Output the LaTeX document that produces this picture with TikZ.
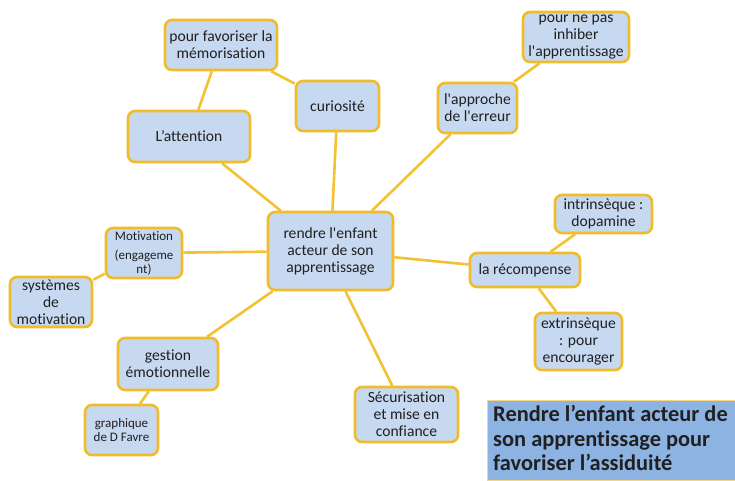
\documentclass[tikz,border=0pt]{standalone}
\usepackage{fontspec}
\setmainfont[Ligatures={NoCommon}]{Carlito}
\newfontfamily\boxfont[Ligatures={NoCommon}]{Carlito}
\usetikzlibrary{backgrounds}
\definecolor{boxfill}{HTML}{C6D9F1}
\definecolor{boxline}{HTML}{F0BC2A}
\definecolor{linkcol}{HTML}{F2C232}
\definecolor{titlefill}{HTML}{8DB3E2}
\definecolor{txt}{HTML}{202020}
\begin{document}
\begin{tikzpicture}[x=1pt,y=-1pt,
  mbox/.style={draw=boxline,fill=boxfill,line width=2.6pt,rounded corners=7pt,
    align=center,inner sep=0pt,text=txt,font=\boxfont\fontsize{15.6}{17}\selectfont},
  sbox/.style={mbox,font=\boxfont\fontsize{13}{14}\selectfont},
  link/.style={draw=linkcol,line width=2.6pt}]
\useasboundingbox (0,0) rectangle (735,480);
\node[mbox,minimum width=125pt,minimum height=78pt] (c) at (330.5,251) {rendre l'enfant\\acteur de son\\apprentissage};
\node[mbox,minimum width=112pt,minimum height=50pt] (mem) at (221,45) {pour favoriser la\\mémorisation};
\node[mbox,minimum width=83pt,minimum height=50pt] (cur) at (337.5,106) {curiosité};
\node[mbox,minimum width=122pt,minimum height=51pt] (att) at (189,136.5) {L’attention};
\node[mbox,minimum width=106pt,minimum height=50pt] (inh) at (576,37) {pour ne pas\\inhiber\\l'apprentissage};
\node[mbox,minimum width=79pt,minimum height=50pt] (err) at (477.5,108) {l'approche\\de l'erreur};
\node[mbox,minimum width=97pt,minimum height=38pt] (intr) at (603.5,214) {intrinsèque :\\dopamine};
\node[mbox,minimum width=110pt,minimum height=34pt] (rec) at (525,270) {la récompense};
\node[mbox,minimum width=87pt,minimum height=57pt] (ext) at (578.5,341.5) {extrinsèque\\: pour\\encourager};
\node[sbox,minimum width=76pt,minimum height=50pt] (mot) at (144,253) {Motivation\\[5pt](engageme\\nt)};
\node[mbox,minimum width=82pt,minimum height=50pt] (sys) at (51,302) {systèmes\\de\\motivation};
\node[mbox,minimum width=100pt,minimum height=52pt] (ges) at (168,364) {gestion\\émotionnelle};
\node[sbox,minimum width=73pt,minimum height=50pt] (gra) at (121.5,430) {graphique\\de D Favre};
\node[mbox,minimum width=103pt,minimum height=55pt] (sec) at (406.5,414.5) {Sécurisation\\et mise en\\confiance};
\node[draw=boxline!60,line width=0.6pt,fill=titlefill,minimum width=248pt,minimum height=80pt,
  inner sep=0pt] (t) at (611,440) {};
\node[anchor=north west,align=left,inner sep=0pt,text=txt,
  font=\fontsize{22.4}{24.5}\selectfont\bfseries] (tt) at (493,405) {Rendre l’enfant acteur de\\son apprentissage pour\\favoriser l’assiduité};
\begin{scope}[on background layer]
\draw[link] (c) -- (cur);
\draw[link] (c) -- (att);
\draw[link] (c) -- (err);
\draw[link] (c) -- (rec);
\draw[link] (c) -- (mot);
\draw[link] (c) -- (ges);
\draw[link] (c.south) ++(15,0) coordinate (cs) (cs) -- (sec);
\draw[link] (mem) -- (cur);
\draw[link] (mem) -- (att);
\draw[link] (err) -- (inh);
\draw[link] (rec) -- (intr);
\draw[link] (rec) -- (ext);
\draw[link] (mot) -- (sys);
\draw[link] (ges) -- (gra);
\end{scope}
\end{tikzpicture}
\end{document}
